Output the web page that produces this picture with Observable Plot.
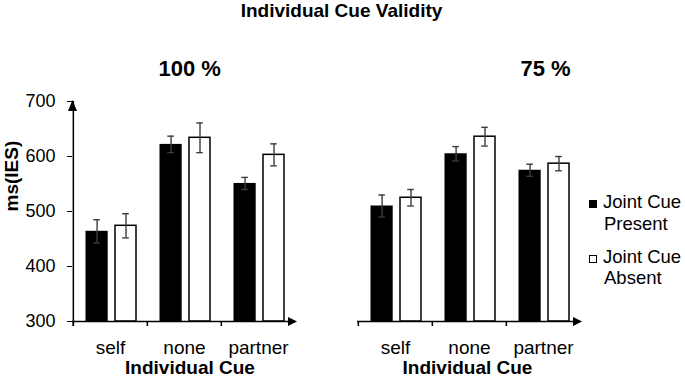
<!DOCTYPE html>
<html>
<head>
<meta charset="utf-8">
<script src="https://cdn.jsdelivr.net/npm/d3@7"></script>
<script src="https://cdn.jsdelivr.net/npm/@observablehq/plot@0.6"></script>
<style>
  html, body { margin: 0; padding: 0; background: #fff; }
  #chart { position: relative; width: 685px; height: 378px; overflow: hidden;
           font-family: "Liberation Sans", Arial, sans-serif; color: #000; }
  #chart > * { position: absolute; }
  .title { left: 0; width: 683px; top: 0px; text-align: center; font-weight: bold;
           font-size: 19px; line-height: 21px; white-space: nowrap; }
  .legend-text { font-size: 18.5px; line-height: 18.5px; white-space: nowrap; }
  .swatch { width: 8px; height: 8px; box-sizing: border-box; border: 1px solid #000; }
</style>
</head>
<body>
<div id="chart"></div>
<script>
// Individual cue (self / none / partner) by joint-cue condition, for each cue validity
const cues = ["self", "none", "partner"];
const validityLabels = ["100 %", "75 %"];
const seriesNames = ["Joint Cue Present", "Joint Cue Absent"];
const yTicks = [300, 400, 500, 600, 700];

// mean IES (ms) and error-bar half widths, 100 % validity
const present100 = [464, 622, 551];
const presentErr100 = [21, 15, 11];
const absent100 = [474, 634, 603];
const absentErr100 = [22, 27, 20];

// mean IES (ms) and error-bar half widths, 75 % validity
const present75 = [510, 605, 575];
const presentErr75 = [20, 13, 11];
const absent75 = [525, 636, 587];
const absentErr75 = [15, 17, 13];

const rows = (means, errs) => cues.map((cue, i) => ({cue, mean: means[i], err: errs[i]}));

// layout
const H = 378, marginTop = 101, marginBottom = 57;
const frameW = 223;
const half = frameW / cues.length / 2;
const frameH = H - marginTop - marginBottom;
const font = "Liberation Sans, Arial, sans-serif";
const errColor = "#3c3c3c";

// arrow heads for the axes
const arrowUp = {draw(ctx) { ctx.moveTo(0, -1.5); ctx.lineTo(4.5, 9.5); ctx.lineTo(-4.5, 9.5); ctx.closePath(); }};
const arrowRight = {draw(ctx) { ctx.moveTo(1.5, 0); ctx.lineTo(-7.5, -4.5); ctx.lineTo(-7.5, 4.5); ctx.closePath(); }};

function panel({label, present, absent, showY, marginLeft, marginRight, labelDx, xLabelDx}) {
  const yMin = yTicks[0];
  const marks = [
    // bars
    Plot.barY(present, {x: "cue", y1: yMin, y2: "mean", fill: "#000", insetLeft: 12.5, insetRight: 39.3}),
    Plot.barY(absent, {x: "cue", y1: yMin, y2: "mean", fill: "#fff", stroke: "#000", strokeWidth: 1.5, insetLeft: 42, insetRight: 11}),
    // error bars
    Plot.ruleX(present, {x: "cue", y1: d => d.mean - d.err, y2: d => d.mean + d.err, dx: -13.4, stroke: errColor, strokeWidth: 1.4}),
    Plot.tickY(present, {x: "cue", y: d => d.mean - d.err, insetLeft: 20.3, insetRight: 47.1, stroke: errColor, strokeWidth: 1.4}),
    Plot.tickY(present, {x: "cue", y: d => d.mean + d.err, insetLeft: 20.3, insetRight: 47.1, stroke: errColor, strokeWidth: 1.4}),
    Plot.ruleX(absent, {x: "cue", y1: d => d.mean - d.err, y2: d => d.mean + d.err, dx: 15.5, stroke: errColor, strokeWidth: 1.4}),
    Plot.tickY(absent, {x: "cue", y: d => d.mean - d.err, insetLeft: 49.2, insetRight: 18.2, stroke: errColor, strokeWidth: 1.4}),
    Plot.tickY(absent, {x: "cue", y: d => d.mean + d.err, insetLeft: 49.2, insetRight: 18.2, stroke: errColor, strokeWidth: 1.4}),
    // x axis: line, category boundary ticks, arrow head
    Plot.ruleY([yMin], {stroke: "#000", strokeWidth: 1.5}),
    Plot.ruleX(cues, {x: d => d, dx: -half, insetTop: frameH, insetBottom: -5, stroke: "#000", strokeWidth: 1.5}),
    Plot.dot([0], {frameAnchor: "bottom-right", symbol: arrowRight, fill: "#000"}),
    // category labels and axis title
    Plot.text(cues, {x: d => d, frameAnchor: "bottom", dy: 32, lineAnchor: "bottom", fontSize: 19}),
    Plot.text(["Individual Cue"], {frameAnchor: "bottom", dx: xLabelDx, dy: 52.5, lineAnchor: "bottom", fontSize: 19, fontWeight: "bold"}),
    // panel heading
    Plot.text([label], {frameAnchor: "top-left", dx: labelDx, dy: -25.5, lineAnchor: "bottom", fontSize: 22, fontWeight: "bold"})
  ];
  if (showY) {
    marks.push(
      Plot.ruleX([cues[0]], {x: d => d, dx: -half, insetBottom: -5, stroke: "#000", strokeWidth: 1.5}),
      Plot.dot([0], {frameAnchor: "top-left", symbol: arrowUp, fill: "#000"}),
      Plot.text(["ms(IES)"], {frameAnchor: "left", dx: -61, rotate: -90, fontSize: 19, fontWeight: "bold"})
    );
  }
  return Plot.plot({
    width: marginLeft + frameW + marginRight,
    height: H,
    marginTop, marginBottom, marginLeft, marginRight,
    style: {fontFamily: font, fontSize: "18px", color: "#000", background: "transparent", overflow: "visible"},
    x: {domain: cues, padding: 0, axis: null},
    y: showY
      ? {domain: [yTicks[0], yTicks[yTicks.length - 1]], ticks: yTicks, tickSize: 5, tickPadding: 12, label: null}
      : {domain: [yTicks[0], yTicks[yTicks.length - 1]], axis: null},
    marks
  });
}

const chart = document.getElementById("chart");

const title = document.createElement("div");
title.className = "title";
title.textContent = "Individual Cue Validity";
chart.appendChild(title);

const left = panel({
  label: validityLabels[0], present: rows(present100, presentErr100), absent: rows(absent100, absentErr100),
  showY: true, marginLeft: 72, marginRight: 25, labelDx: 86, xLabelDx: 6
});
left.style.left = "0px"; left.style.top = "0px";
chart.appendChild(left);

const right = panel({
  label: validityLabels[1], present: rows(present75, presentErr75), absent: rows(absent75, absentErr75),
  showY: false, marginLeft: 37, marginRight: 10, labelDx: 163, xLabelDx: -1.5
});
right.style.left = "320px"; right.style.top = "0px";
chart.appendChild(right);

// legend
const legendItems = [
  {fill: "#000", top: 200, lines: [[603, 209], [604, 231]]},
  {fill: "#fff", top: 255, lines: [[603, 264], [604, 285]]}
];
const legendLines = [["Joint Cue", "Present"], ["Joint Cue", "Absent"]];
legendItems.forEach((item, k) => {
  const sw = document.createElement("div");
  sw.className = "swatch";
  sw.style.left = "589px"; sw.style.top = item.top + "px"; sw.style.background = item.fill;
  sw.title = seriesNames[k];
  chart.appendChild(sw);
  item.lines.forEach(([x, baseline], j) => {
    const t = document.createElement("div");
    t.className = "legend-text";
    t.style.left = x + "px";
    t.style.top = (baseline - 15.66) + "px";
    t.textContent = legendLines[k][j];
    chart.appendChild(t);
  });
});
</script>
</body>
</html>
